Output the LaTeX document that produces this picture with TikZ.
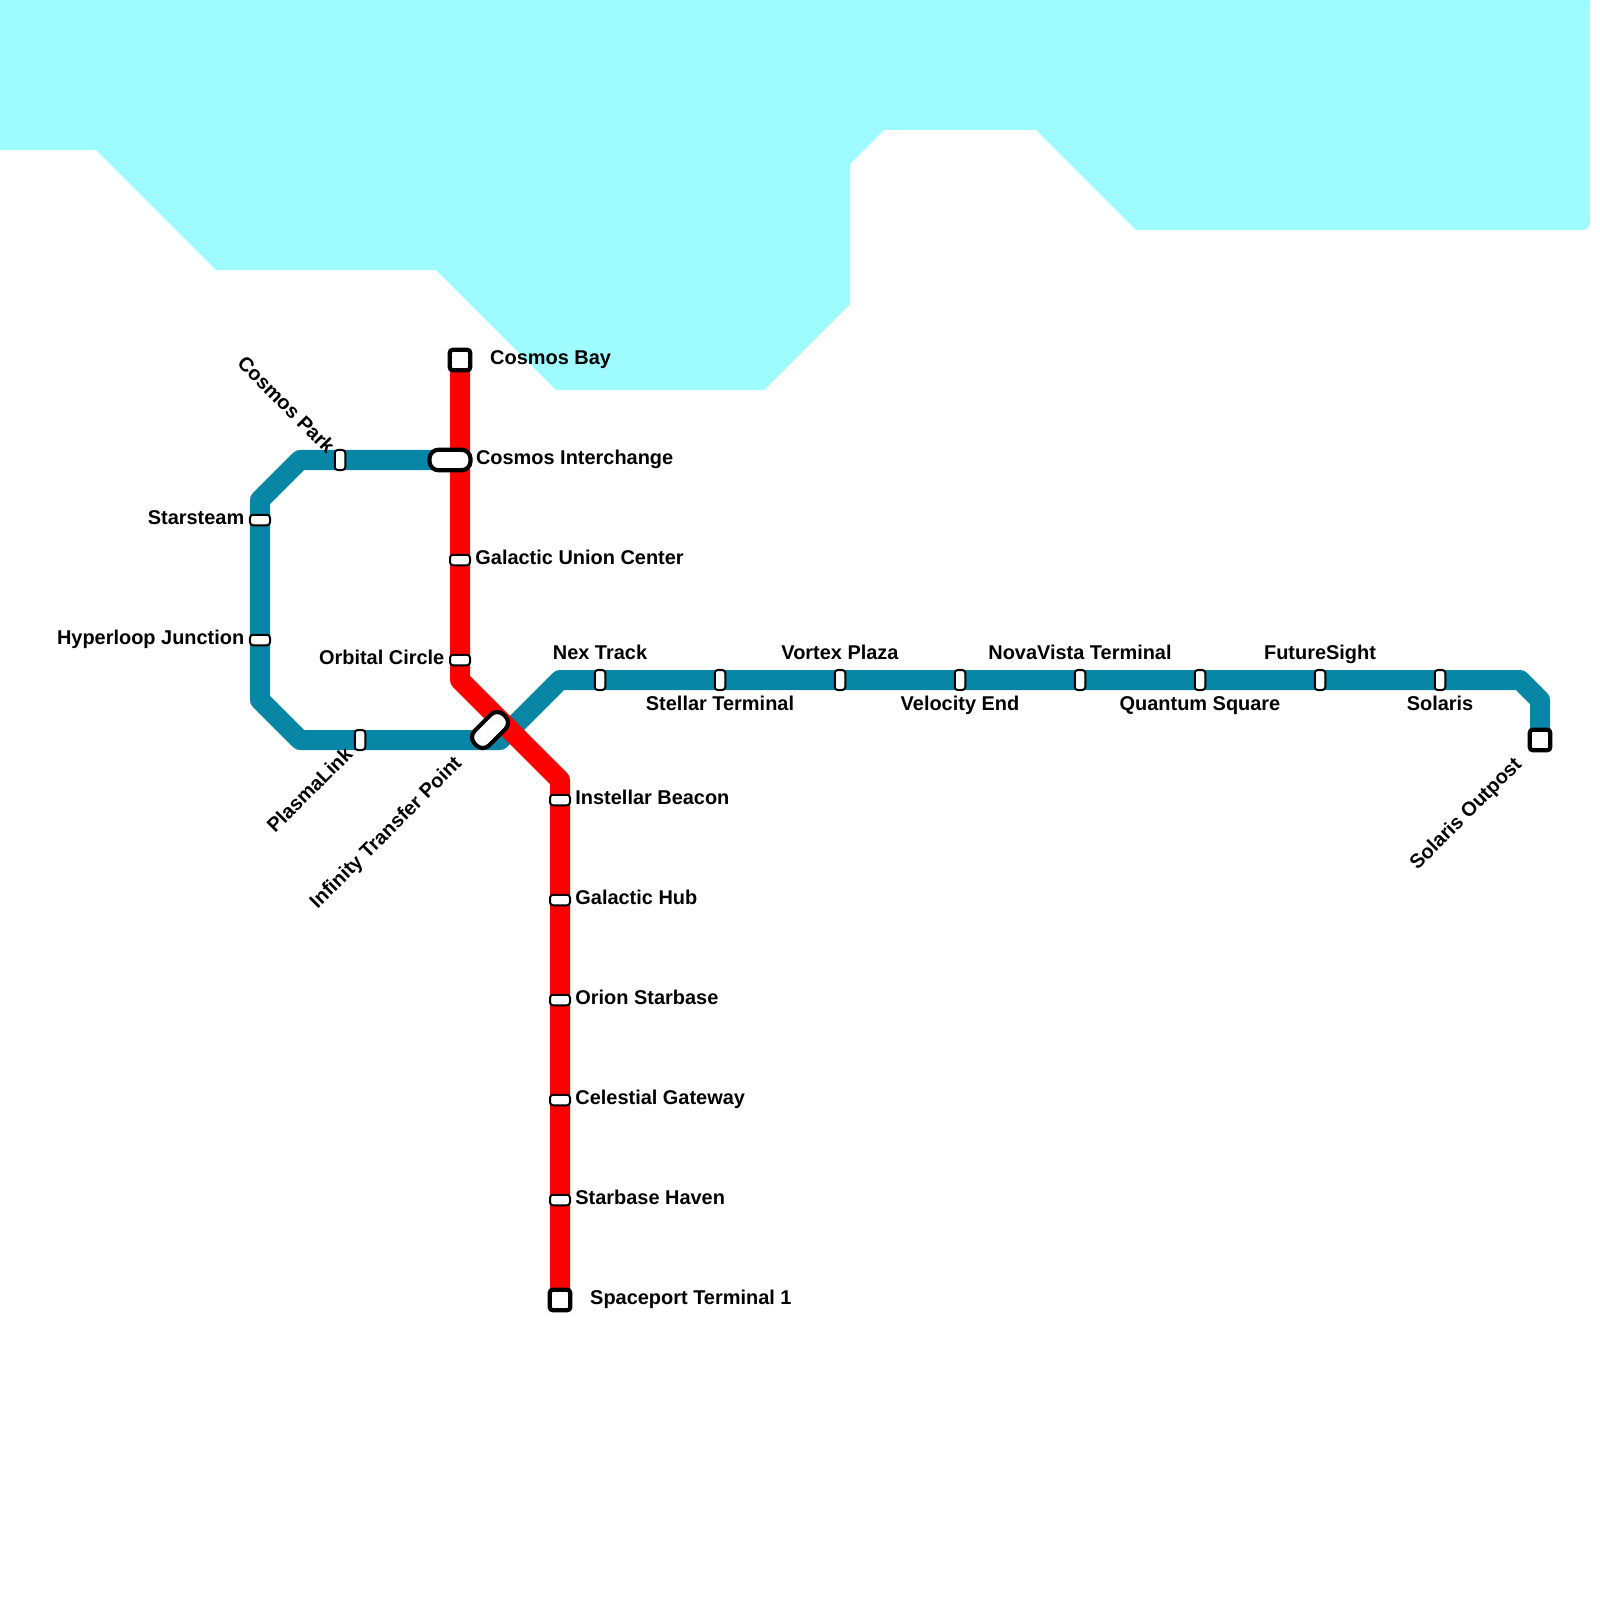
\documentclass[tikz,border=0pt]{standalone}
\usepackage{fontspec}
\setmainfont{Liberation Sans}
\usepackage{tikz}
\usetikzlibrary{positioning, backgrounds}
\definecolor{wateraqua}{HTML}{9EFBFF}
\definecolor{lineblue}{HTML}{0786A6}
\definecolor{linered}{HTML}{FF0000}

\begin{document}
\begin{tikzpicture}[
    x=0.01cm, y=-0.01cm,
    water/.style={fill=wateraqua},
    metro/.style={line width=0.2cm, line join=round},
    stoph/.style={rectangle, draw=black, fill=white, line width=0.02cm, minimum width=0.2cm, minimum height=0.105cm, inner sep=0pt, rounded corners=0.03cm},
    stopv/.style={stoph, minimum width=0.105cm, minimum height=0.2cm},
    terminus/.style={rectangle, draw=black, fill=white, line width=0.042cm, minimum size=0.205cm, inner sep=0pt, rounded corners=0.03cm},
    hub/.style={rectangle, draw=black, fill=white, line width=0.042cm, minimum width=0.41cm, minimum height=0.205cm, inner sep=0pt, rounded corners=0.09cm},
    lab/.style={font=\fontsize{5.67}{6.8}\selectfont\bfseries, inner sep=0pt, text=black, text height=0.144cm, text depth=0pt},
    sidelab/.style={lab, yshift=0.023cm},
]
\useasboundingbox (0,0) rectangle (1600,1600);

% red line stations
\node[terminus] (cosmosbay) at (460,360) {};
\node[hub] (cosmosint) at (450,460) {};
\node[stoph] (galunion) at (460,560) {};
\node[stoph] (orbital) at (460,660) {};
\node[stoph] (instellar) at (560,800) {};
\node[stoph] (galhub) at (560,900) {};
\node[stoph] (orion) at (560,1000) {};
\node[stoph] (celestial) at (560,1100) {};
\node[stoph] (starhaven) at (560,1200) {};
\node[terminus] (spaceport) at (560,1300) {};

% blue line stations
\node[stopv] (cosmospark) at (340,460) {};
\node[stoph] (starsteam) at (260,520) {};
\node[stoph] (hyperloop) at (260,640) {};
\node[stopv] (plasmalink) at (360,740) {};
\node[hub, rotate=45] (infinity) at (490,730) {};
\node[stopv] (nextrack) at (600,680) {};
\node[stopv] (stellar) at (720,680) {};
\node[stopv] (vortex) at (840,680) {};
\node[stopv] (velocity) at (960,680) {};
\node[stopv] (novavista) at (1080,680) {};
\node[stopv] (quantum) at (1200,680) {};
\node[stopv] (futuresight) at (1320,680) {};
\node[stopv] (solaris) at (1440,680) {};
\node[terminus] (solarisout) at (1540,740) {};

% bends
\coordinate (redA) at (460,680);
\coordinate (redB) at (560,780);
\coordinate (blueA) at (300,460);
\coordinate (blueB) at (260,500);
\coordinate (blueC) at (260,700);
\coordinate (blueD) at (300,740);
\coordinate (blueE) at (500,740);
\coordinate (blueF) at (560,680);
\coordinate (blueG) at (1520,680);
\coordinate (blueH) at (1540,700);

\begin{scope}[on background layer]
\fill[water] (0,-5) -- (0,150) -- (96,150) -- (216,270) -- (436,270) -- (556,390) -- (764,390) -- (850,304) -- (850,164) -- (884,130) -- (1036,130) -- (1136,230) [rounded corners=0.08cm] -- (1590,230) -- (1590,-5) [sharp corners] -- cycle;
\draw[metro, lineblue] (cosmosint.center) -- (blueA) -- (blueB) -- (blueC) -- (blueD) -- (blueE) -- (blueF) -- (blueG) -- (blueH) -- (solarisout.center);
\draw[metro, linered] (cosmosbay.center) -- (redA) -- (redB) -- (spaceport.center);
\end{scope}

% labels, red line
\node[sidelab, right=0.295cm of cosmosbay.center] (cosmosbaylab) {Cosmos Bay};
\node[sidelab, right=0.253cm of cosmosint.center] (cosmosintlab) {Cosmos Interchange};
\node[sidelab, right=0.147cm of galunion.center] (galunionlab) {Galactic Union Center};
\node[sidelab, left=0.15cm of orbital.center] (orbitallab) {Orbital Circle};
\node[sidelab, right=0.147cm of instellar.center] (instellarlab) {Instellar Beacon};
\node[sidelab, right=0.147cm of galhub.center] (galhublab) {Galactic Hub};
\node[sidelab, right=0.147cm of orion.center] (orionlab) {Orion Starbase};
\node[sidelab, right=0.147cm of celestial.center] (celestiallab) {Celestial Gateway};
\node[sidelab, right=0.147cm of starhaven.center] (starhavenlab) {Starbase Haven};
\node[sidelab, right=0.295cm of spaceport.center] (spaceportlab) {Spaceport Terminal 1};

% labels, blue line
\node[sidelab, left=0.15cm of starsteam.center] (starsteamlab) {Starsteam};
\node[sidelab, left=0.15cm of hyperloop.center] (hyperlooplab) {Hyperloop Junction};
\node[lab, above=0.2cm of nextrack.center] (nextracklab) {Nex Track};
\node[lab, below=0.15cm of stellar.center] (stellarlab) {Stellar Terminal};
\node[lab, above=0.2cm of vortex.center] (vortexlab) {Vortex Plaza};
\node[lab, below=0.15cm of velocity.center] (velocitylab) {Velocity End};
\node[lab, above=0.2cm of novavista.center] (novavistalab) {NovaVista Terminal};
\node[lab, below=0.15cm of quantum.center] (quantumlab) {Quantum Square};
\node[lab, above=0.2cm of futuresight.center] (futuresightlab) {FutureSight};
\node[lab, below=0.15cm of solaris.center] (solarislab) {Solaris};
\node[lab, rotate=-45, anchor=east] (cosmosparklab) at (332,450) {Cosmos Park};
\node[lab, rotate=45, anchor=east] (plasmalinklab) at (349,750) {PlasmaLink};
\node[lab, rotate=45, anchor=east] (infinitylab) at (458,759) {Infinity Transfer Point};
\node[lab, rotate=45, anchor=east] (solarisoutlab) at (1518,760) {Solaris Outpost};
\end{tikzpicture}
\end{document}
